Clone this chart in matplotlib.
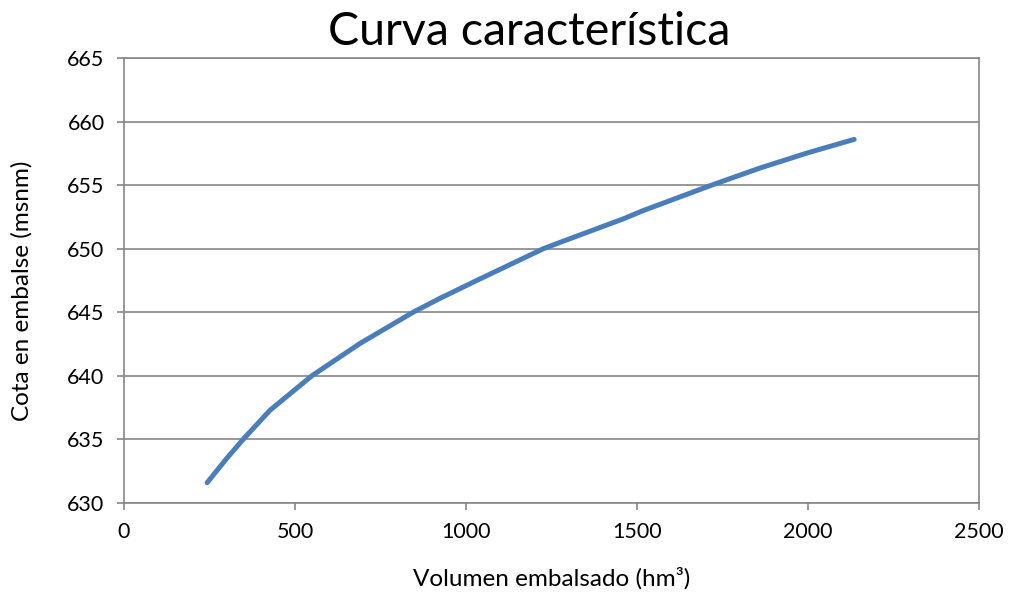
import matplotlib.pyplot as plt

# Datos
volumen = [243, 300, 348, 427, 549, 690, 845, 924, 1031, 1226, 1275, 1460, 1518, 1718, 1860, 2000, 2135]
cota = [631.6, 633.5, 635.0, 637.3, 640.0, 642.55, 645.0, 646.1, 647.5, 650.0, 650.5, 652.35, 653.0, 655.0, 656.35, 657.55, 658.6]

plt.rcParams['font.family'] = ['Lato', 'DejaVu Sans']

fig = plt.figure(figsize=(10.1, 5.92), dpi=100)
ax = fig.add_axes([0.1228, 0.1503, 0.8465, 0.7517])

ax.plot(volumen, cota, color='#4A7EBB', linewidth=3.6, solid_capstyle='round',
        solid_joinstyle='round', zorder=3)

ax.set_xlim(0, 2500)
ax.set_ylim(630, 665)
ax.set_xticks(range(0, 2501, 500))
ax.set_yticks(range(630, 666, 5))
ax.grid(axis='y', color='#868686', linewidth=1.2)
ax.set_axisbelow(True)
for s in ax.spines.values():
    s.set_color('#868686')
    s.set_linewidth(1.2)
ax.tick_params(colors='#868686', labelcolor='black', labelsize=15.5, length=5, width=1.2, pad=9)

fig.text(529 / 1010, 1 - 45 / 592, 'Curva característica', fontsize=33.5,
         ha='center', va='baseline')
ax.set_xlabel('Volumen embalsado (hm³)', fontsize=17.5)
ax.set_ylabel('Cota en embalse (msnm)', fontsize=17.5)
ax.xaxis.set_label_coords((552 - 124) / 855, -(578 - 503) / 445)
ax.yaxis.set_label_coords(-(124 - 22) / 855, (503 - 291) / 445)
ax.xaxis.label.set_va('center')
ax.yaxis.label.set_va('center')

fig.savefig('out.png', dpi=100)
